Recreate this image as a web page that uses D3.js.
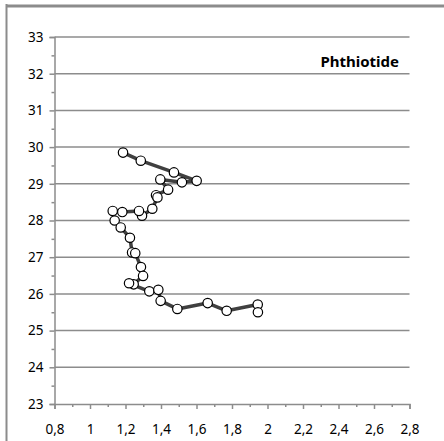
<!DOCTYPE html>
<html>
<head>
<meta charset="utf-8">
<script src="https://cdn.jsdelivr.net/npm/d3@7"></script>
<style>
  body { margin: 0; background: #fff; }
  svg { display: block; }
</style>
</head>
<body>
<script>
// values, in drawing order
var xVals = [1.186, 1.286, 1.473, 1.601, 1.518, 1.396, 1.44, 1.372, 1.38, 1.351, 1.293, 1.276,
    1.182, 1.128, 1.139, 1.173, 1.225, 1.237, 1.255, 1.287, 1.299, 1.246, 1.22, 1.334,
    1.385, 1.398, 1.492, 1.663, 1.77, 1.945, 1.946];
var yVals = [29.85, 29.63, 29.31, 29.08, 29.04, 29.12, 28.84, 28.69, 28.63, 28.32, 28.13, 28.26,
    28.23, 28.26, 28.0, 27.81, 27.53, 27.13, 27.11, 26.73, 26.49, 26.26, 26.29, 26.07,
    26.11, 25.81, 25.59, 25.75, 25.54, 25.71, 25.50];
var xTicks = [0.8, 1, 1.2, 1.4, 1.6, 1.8, 2, 2.2, 2.4, 2.6, 2.8];
var yTicks = [23, 24, 25, 26, 27, 28, 29, 30, 31, 32, 33];
var title = "Phthiotide";

var w = 444;
var h = 441;

var points = xVals.map(function(d, i) {
    return [d, yVals[i]];
});

var svg = d3.select("body")
    .append("svg")
    .attr("width", w)
    .attr("height", h);

// frame pieces at the left and top edges
svg.append("line")
    .attr("x1", 6.5).attr("x2", 6.5)
    .attr("y1", 4).attr("y2", h)
    .attr("stroke", "#8c8c8c")
    .attr("stroke-width", 2);
svg.append("line")
    .attr("x1", 6).attr("x2", w)
    .attr("y1", 6).attr("y2", 6)
    .attr("stroke", "#8c8c8c")
    .attr("stroke-width", 3);

var xScale = d3.scaleLinear()
    .domain([0.8, 2.8])
    .range([54.5, 409.5]);

var yScale = d3.scaleLinear()
    .domain([23, 33])
    .range([404, 37]);

var font = "'Noto Sans', 'Open Sans', sans-serif";

// horizontal grid
svg.append("g")
    .selectAll("line")
    .data(yTicks.slice(1))
    .enter()
    .append("line")
    .attr("x1", xScale(0.8))
    .attr("x2", xScale(2.8))
    .attr("y1", function(d) { return yScale(d); })
    .attr("y2", function(d) { return yScale(d); })
    .attr("stroke", "#8c8c8c")
    .attr("stroke-width", 1.5);

// y axis
var yAxis = svg.append("g")
    .attr("transform", "translate(" + xScale(0.8) + ",0)")
    .call(d3.axisLeft(yScale).tickValues(yTicks).tickSize(5).tickPadding(5)
        .tickFormat(d3.format("d")));
svg.append("g")
    .attr("transform", "translate(" + xScale(0.8) + ",0)")
    .call(d3.axisLeft(yScale).tickValues(d3.range(23.5, 33, 1)).tickSize(3).tickFormat(""))
    .call(function(g) { g.select(".domain").remove(); });

// x axis
var xAxis = svg.append("g")
    .attr("transform", "translate(0," + yScale(23) + ")")
    .call(d3.axisBottom(xScale).tickValues(xTicks).tickSize(5).tickPadding(15)
        .tickFormat(function(d) { return String(d).replace(".", ","); }));
svg.append("g")
    .attr("transform", "translate(0," + yScale(23) + ")")
    .call(d3.axisBottom(xScale).tickValues(d3.range(0.9, 2.8, 0.2)).tickSize(3).tickFormat(""))
    .call(function(g) { g.select(".domain").remove(); });

// ticks cross the axis line
svg.selectAll(".tick line")
    .attr("stroke", "#8c8c8c")
    .attr("stroke-width", 1.5);
yAxis.selectAll(".tick line").attr("x1", 0).attr("x2", -5);
svg.selectAll(".domain")
    .attr("stroke", "#8c8c8c")
    .attr("stroke-width", 1.5);
svg.selectAll(".tick text")
    .attr("fill", "#000")
    .style("font-family", font)
    .style("font-size", "13.5px");
yAxis.selectAll(".tick text").attr("x", -11);

svg.append("text")
    .attr("x", 399)
    .attr("y", 67)
    .attr("text-anchor", "end")
    .style("font-family", font)
    .style("font-weight", "bold")
    .style("font-size", "15px")
    .text(title);

var line = d3.line()
    .x(function(d) { return xScale(d[0]); })
    .y(function(d) { return yScale(d[1]); });

svg.append("path")
    .datum(points)
    .attr("fill", "none")
    .attr("stroke", "#404040")
    .attr("stroke-width", 3.5)
    .attr("stroke-linejoin", "round")
    .attr("d", line);

svg.selectAll("circle")
    .data(points)
    .enter()
    .append("circle")
    .attr("fill", "#fff")
    .attr("stroke", "#000")
    .attr("stroke-width", 1.2)
    .attr("r", 4.7)
    .attr("cx", function(d) { return xScale(d[0]); })
    .attr("cy", function(d) { return yScale(d[1]); });
</script>
</body>
</html>
